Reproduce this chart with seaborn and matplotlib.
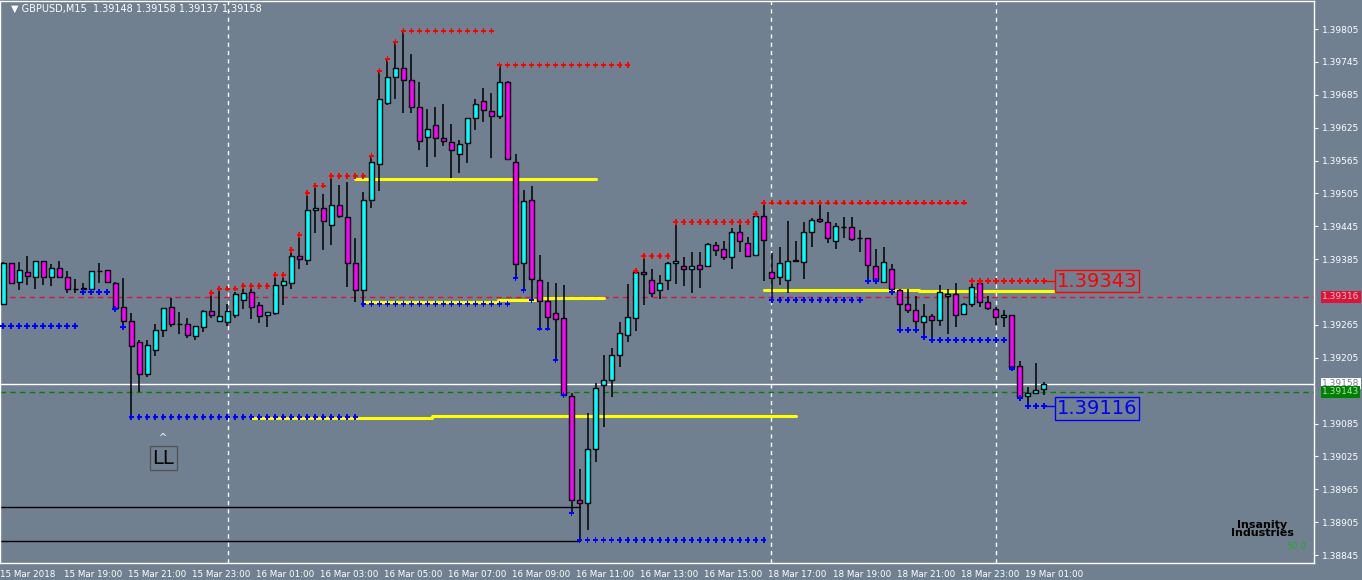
import numpy as np
import pandas as pd
import matplotlib
matplotlib.use("Agg")
import matplotlib.pyplot as plt
import seaborn as sns

# prices are stored as points above 1.39000 (1 point = 0.00001)
BASE = 1.39
open_pts = [303, 378, 343, 362, 352, 382, 352, 369, 352, 331, 331, 331, 363, 365, 342, 298, 272, 234, 175, 219,
            256, 298, 267, 267, 245, 261, 290, 272, 270, 283, 310, 325, 301, 283, 287, 338, 342, 391, 383, 475,
            478, 447, 484, 462, 378, 329, 493, 559, 670, 717, 734, 712, 663, 608, 630, 606, 599, 577, 597, 643,
            674, 655, 646, 708, 562, 378, 493, 347, 309, 287, 278, 135, -55, -60, 39, 155, 164, 210, 247, 278,
            362, 347, 329, 347, 378, 373, 367, 374, 373, 411, 404, 389, 435, 414, 393, 464, 362, 352, 347, 384,
            380, 435, 458, 453, 418, 444, 444, 424, 424, 373, 343, 367, 329, 303, 292, 270, 281, 274, 318, 321,
            285, 303, 341, 307, 294, 279, 283, 190, 135, 141, 148]
high_pts = [380, 378, 380, 391, 382, 382, 376, 382, 363, 349, 342, 363, 378, 365, 343, 351, 287, 237, 237, 267,
            296, 314, 289, 278, 263, 292, 323, 331, 303, 325, 336, 338, 307, 289, 356, 356, 402, 429, 506, 519,
            504, 537, 520, 526, 424, 508, 573, 728, 750, 781, 801, 759, 708, 659, 663, 668, 632, 603, 643, 677,
            697, 688, 739, 710, 577, 511, 519, 393, 343, 342, 338, 141, 2, 104, 159, 210, 223, 270, 340, 367,
            385, 367, 356, 380, 451, 389, 398, 398, 414, 416, 418, 442, 451, 425, 469, 488, 396, 407, 455, 418,
            453, 460, 488, 471, 451, 462, 462, 438, 424, 404, 407, 376, 331, 331, 318, 303, 285, 338, 331, 341,
            305, 345, 345, 318, 298, 292, 283, 199, 152, 196, 160]
low_pts = [301, 340, 329, 338, 331, 338, 336, 352, 323, 323, 323, 331, 342, 342, 290, 258, 97, 143, 170, 208,
           243, 261, 248, 241, 238, 252, 278, 270, 263, 278, 294, 276, 268, 261, 283, 301, 331, 367, 374, 433,
           402, 411, 460, 334, 307, 301, 478, 509, 666, 677, 652, 652, 584, 553, 571, 591, 533, 542, 560, 621,
           635, 570, 641, 568, 351, 329, 310, 258, 258, 201, 137, -78, -129, -109, 15, 79, 133, 188, 234, 254,
           301, 316, 312, 329, 340, 336, 323, 332, 371, 391, 383, 367, 398, 389, 391, 345, 305, 338, 323, 382,
           349, 407, 451, 414, 404, 424, 418, 398, 345, 345, 343, 325, 256, 287, 256, 243, 239, 263, 248, 261,
           283, 298, 298, 292, 265, 261, 185, 130, 121, 139, 137]
close_pts = [378, 342, 365, 354, 382, 352, 369, 352, 331, 330, 332, 363, 363, 343, 296, 272, 227, 175, 228, 256,
             296, 267, 266, 247, 263, 290, 283, 281, 290, 321, 323, 298, 281, 289, 338, 345, 391, 385, 475, 478,
             455, 484, 464, 378, 329, 493, 562, 677, 717, 734, 712, 663, 601, 623, 606, 601, 584, 595, 643, 668,
             657, 646, 708, 568, 376, 491, 349, 309, 279, 276, 137, -55, -60, 39, 150, 164, 210, 250, 279, 362,
             358, 323, 342, 378, 382, 367, 373, 367, 413, 402, 389, 435, 418, 391, 464, 420, 351, 378, 382, 382,
             435, 456, 455, 424, 446, 443, 422, 423, 374, 347, 380, 331, 303, 292, 272, 281, 274, 325, 321, 283,
             303, 334, 307, 296, 279, 283, 188, 133, 141, 146, 158]

# resistance / support dots: (first bar, last bar, level in points)
red_dots = [(26, 26, 323), (27, 29, 331), (30, 33, 336), (34, 35, 356), (36, 36, 402), (37, 37, 429),
            (38, 38, 506), (39, 40, 519), (41, 45, 537), (46, 46, 573), (47, 47, 728), (48, 48, 750),
            (49, 49, 781), (50, 61, 801), (62, 78, 739), (79, 79, 363), (80, 83, 391), (84, 93, 453),
            (94, 94, 467), (95, 120, 488), (121, 130, 345)]
blue_dots = [(0, 9, 263), (10, 13, 325), (14, 14, 294), (15, 15, 261), (16, 44, 97), (45, 63, 303),
             (64, 64, 351), (65, 65, 329), (66, 66, 310), (67, 68, 258), (69, 69, 201), (70, 70, 137),
             (71, 71, -78), (72, 95, -128), (96, 107, 310), (108, 109, 345), (111, 111, 325),
             (112, 114, 256), (115, 115, 243), (116, 125, 237), (126, 126, 185), (127, 127, 132),
             (128, 130, 117)]
# yellow levels: (x start, x end, level)
yellow_lines = [(44, 74.1, 531), (45, 61.75, 307), (61.75, 67.1, 310), (67.1, 75, 314),
                (30.9, 53.6, 95), (53.6, 99.1, 99), (95, 114.4, 329), (114.4, 131.4, 326)]
black_lines = [(-0.4, 72, -67), (-0.4, 72, -129)]

time_labels = ["15 Mar 2018", "15 Mar 19:00", "15 Mar 21:00", "15 Mar 23:00", "16 Mar 01:00",
               "16 Mar 03:00", "16 Mar 05:00", "16 Mar 07:00", "16 Mar 09:00", "16 Mar 11:00",
               "16 Mar 13:00", "16 Mar 15:00", "18 Mar 17:00", "18 Mar 19:00", "18 Mar 21:00",
               "18 Mar 23:00", "19 Mar 01:00"]
price_ticks = [1.39805, 1.39745, 1.39685, 1.39625, 1.39565, 1.39505, 1.39445, 1.39385,
               1.39265, 1.39205, 1.39085, 1.39025, 1.38965, 1.38905, 1.38845]

BG = "#708090"
sns.set_style("dark", {"axes.facecolor": BG, "figure.facecolor": BG})
plt.rcParams["font.family"] = ["DejaVu Sans"]

def px(v):
    return BASE + np.asarray(v) / 1e5

df = pd.DataFrame({"o": px(open_pts), "h": px(high_pts), "l": px(low_pts), "c": px(close_pts)})
df["i"] = np.arange(len(df))
df["bull"] = df["c"] >= df["o"]

fig = plt.figure(figsize=(13.62, 5.8), dpi=100)
ax = fig.add_axes([0, 17 / 580, 1314 / 1362, 562 / 580])
ylo = 1.39805 - (563 - 29) / 54792
yhi = 1.39805 - (1 - 29) / 54792
ax.set_ylim(ylo, yhi)
ax.set_xlim(-0.375, 163.75)

# grid separators
for xv in [28.1, 95.9, 124]:
    ax.axvline(xv, color="white", lw=1, ls=(0, (3, 3)), zorder=1)

# horizontal price lines
ax.axhline(1.39316, color="#DC143C", lw=1, ls=(0, (4, 3)), zorder=1)
ax.axhline(1.39143, color="#008000", lw=1, ls=(0, (4, 3)), zorder=1)
ax.axhline(1.39158, color="white", lw=1, zorder=1)

for x0, x1, lv in black_lines:
    ax.plot([x0, x1], [px(lv), px(lv)], color="black", lw=1, zorder=2)
for x0, x1, lv in yellow_lines:
    ax.plot([x0, x1], [px(lv), px(lv)], color="yellow", lw=2.2, zorder=2)

# candles
ax.vlines(df["i"], df["l"], df["h"], color="black", lw=1.1, zorder=3)
body_lo = np.minimum(df["o"], df["c"])
body_h = np.maximum(np.abs(df["c"] - df["o"]), 0.000012)
colors = np.where(df["bull"], "#00FFFF", "#FF00FF")
flat = np.abs(df["c"] - df["o"]) < 0.000015
colors = np.where(flat & (df["i"].isin([9, 10, 12, 22, 99, 105, 107])), "black", colors)
ax.bar(df["i"], body_h, bottom=body_lo, width=0.6, color=colors, edgecolor="black", lw=1, zorder=4)

def dots(segs):
    rows = [(i, px(lv)) for a, b, lv in segs for i in range(a, b + 1)]
    return pd.DataFrame(rows, columns=["i", "p"])

rd = dots(red_dots)
bd = dots(blue_dots)
sns.scatterplot(data=rd, x="i", y="p", marker="P", s=16, color="red", edgecolor="none", ax=ax, zorder=5)
sns.scatterplot(data=bd, x="i", y="p", marker="P", s=16, color="blue", edgecolor="none", ax=ax, zorder=5)

# end labels
ax.plot([130, 131.4], [px(345), px(345)], color="red", lw=1, zorder=5)
ax.text(131.6, px(345), "1.39343", color="red", fontsize=14, va="center", ha="left",
        bbox=dict(boxstyle="square,pad=0.1", fc=BG, ec="red", lw=1), zorder=6)
ax.plot([130, 131.4], [px(117), px(117)], color="blue", lw=1, zorder=5)
ax.text(131.6, px(112), "1.39116", color="blue", fontsize=14, va="center", ha="left",
        bbox=dict(boxstyle="square,pad=0.1", fc=BG, ec="blue", lw=1), zorder=6)

ax.text(20, px(22), "LL", color="black", fontsize=14, ha="center", va="center",
        bbox=dict(boxstyle="square,pad=0.15", fc=BG, ec="#555555", lw=1), zorder=6)
ax.text(20, px(58), "^", color="white", fontsize=7, ha="center", va="center")

ax.text(0.008, 0.995, "\u25bc GBPUSD,M15  1.39148 1.39158 1.39137 1.39158", transform=ax.transAxes,
        color="white", fontsize=7, va="top", ha="left")
ax.text(157.3, px(-107), "Insanity\nIndustries", color="black", fontsize=8, ha="center", va="center",
        fontweight="bold", linespacing=0.8)
ax.text(162.8, px(-140), "50.0", color="#22AA22", fontsize=6.5, ha="right", va="center")

# axes styling
for s in ax.spines.values():
    s.set_color("white")
    s.set_linewidth(1)
ax.yaxis.tick_right()
ax.set_yticks(price_ticks)
ax.set_yticklabels([f"{p:.5f}" for p in price_ticks])
ax.tick_params(axis="y", colors="white", labelsize=6.5, length=3, direction="out", pad=3)
ax.set_xticks(np.arange(0, 8 * len(time_labels), 8) - 0.4)
ax.set_xticklabels(time_labels, ha="left")
ax.tick_params(axis="x", colors="white", labelsize=6.3, length=3, direction="out", pad=2)
for lab in ax.get_xticklabels():
    lab.set_color("white")
ax.set_xlabel("")
ax.set_ylabel("")
ax.grid(False)

# price tags on the right scale
for val, fc, tc in [(1.39316, "#DC143C", "#F0C0C0"), (1.39158, "white", "#708090"), (1.39143, "#008000", "#B0E0B0")]:
    ax.text(1.006, val, f"{val:.5f}", transform=ax.get_yaxis_transform(), fontsize=6.5, color=tc,
            va="center", ha="left", bbox=dict(boxstyle="square,pad=0.15", fc=fc, ec="none"), clip_on=False)

fig.savefig("out.png", dpi=100, facecolor=BG)
